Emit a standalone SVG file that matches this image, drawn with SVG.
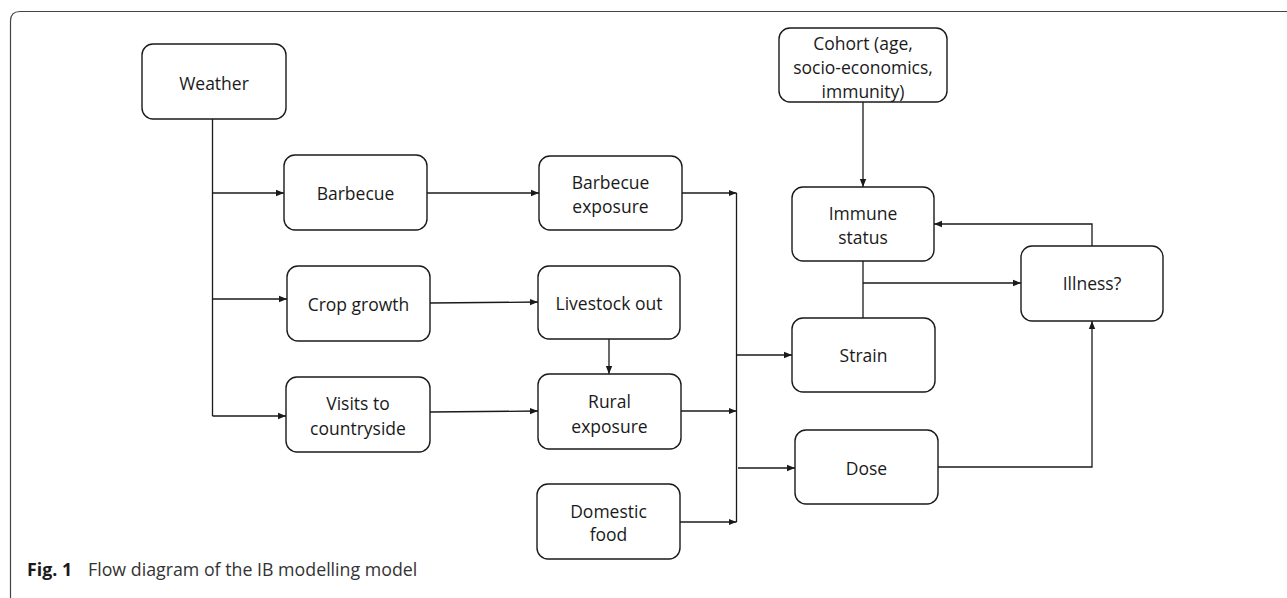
<svg xmlns="http://www.w3.org/2000/svg" width="1287" height="598" viewBox="0 0 1287 598">
<style>
.box{fill:#fff;stroke:#1a1a1a;stroke-width:1.4}
.lbl{font-family:"Open Sans","Noto Sans",sans-serif;font-size:17.5px;fill:#1a1a1a;text-anchor:middle;dominant-baseline:central}
.con{fill:none;stroke:#1a1a1a;stroke-width:1.3}
.cap{font-family:"Open Sans","Noto Sans",sans-serif;font-size:17.8px;fill:#333}
</style>
<defs>
<marker id="ah" viewBox="0 0 10 10" refX="10" refY="5" markerWidth="8" markerHeight="8" markerUnits="userSpaceOnUse" orient="auto">
<path d="M0,1 L10,5 L0,9 Z" fill="#1a1a1a"/>
</marker>
</defs>
<rect width="1287" height="598" fill="#fff"/>
<path d="M10.5,600 L10.5,21 Q10.5,11.5 20,11.5 L1290,11.5" fill="none" stroke="#444" stroke-width="1.2"/>

<g id="connectors">
<path class="con" d="M212.5,119 L212.5,416"/>
<path class="con" d="M212.5,193 L284,193" marker-end="url(#ah)"/>
<path class="con" d="M212.5,299 L287,299" marker-end="url(#ah)"/>
<path class="con" d="M212.5,416 L286,416" marker-end="url(#ah)"/>
<path class="con" d="M427,193 L539,193" marker-end="url(#ah)"/>
<path class="con" d="M430,303 L538,302" marker-end="url(#ah)"/>
<path class="con" d="M430,412 L538,411" marker-end="url(#ah)"/>
<path class="con" d="M609,339 L609,374" marker-end="url(#ah)"/>
<path class="con" d="M736.5,193 L736.5,522"/>
<path class="con" d="M682,193 L736.5,193" marker-end="url(#ah)"/>
<path class="con" d="M681,411 L736.5,411" marker-end="url(#ah)"/>
<path class="con" d="M680,522 L736.5,522" marker-end="url(#ah)"/>
<path class="con" d="M736.5,355 L792,355" marker-end="url(#ah)"/>
<path class="con" d="M738,468 L795,468" marker-end="url(#ah)"/>
<path class="con" d="M863,102 L863,187" marker-end="url(#ah)"/>
<path class="con" d="M863,261 L863,318"/>
<path class="con" d="M863,283 L1021,283" marker-end="url(#ah)"/>
<path class="con" d="M1092,246 L1092,224 L934,224" marker-end="url(#ah)"/>
<path class="con" d="M938,467 L1092,467 L1092,321" marker-end="url(#ah)"/>
</g>

<g id="weather"><rect class="box" x="142" y="44" width="144" height="75" rx="11"/><text class="lbl" x="214" y="83">Weather</text></g>
<g id="barbecue"><rect class="box" x="284" y="155" width="143" height="75" rx="11"/><text class="lbl" x="355.5" y="193">Barbecue</text></g>
<g id="crop-growth"><rect class="box" x="287" y="266" width="143" height="75" rx="11"/><text class="lbl" x="358.5" y="304">Crop growth</text></g>
<g id="visits"><rect class="box" x="286" y="377" width="144" height="75" rx="11"/><text class="lbl" x="358" y="403">Visits to</text><text class="lbl" x="358" y="428">countryside</text></g>
<g id="barbecue-exposure"><rect class="box" x="539" y="156" width="143" height="74" rx="11"/><text class="lbl" x="610.5" y="182">Barbecue</text><text class="lbl" x="610.5" y="206">exposure</text></g>
<g id="livestock-out"><rect class="box" x="538" y="266" width="142" height="73" rx="11"/><text class="lbl" x="609" y="303">Livestock out</text></g>
<g id="rural-exposure"><rect class="box" x="538" y="374" width="143" height="75" rx="11"/><text class="lbl" x="609.5" y="401">Rural</text><text class="lbl" x="609.5" y="426">exposure</text></g>
<g id="domestic-food"><rect class="box" x="537" y="484" width="143" height="75" rx="11"/><text class="lbl" x="608.5" y="511">Domestic</text><text class="lbl" x="608.5" y="534">food</text></g>
<g id="cohort"><rect class="box" x="779" y="28" width="168" height="74" rx="11"/><text class="lbl" x="863" y="43">Cohort (age,</text><text class="lbl" x="863" y="67">socio-economics,</text><text class="lbl" x="863" y="91">immunity)</text></g>
<g id="immune-status"><rect class="box" x="792" y="187" width="142" height="74" rx="11"/><text class="lbl" x="863" y="213">Immune</text><text class="lbl" x="863" y="237">status</text></g>
<g id="strain"><rect class="box" x="792" y="318" width="143" height="74" rx="11"/><text class="lbl" x="863.5" y="355">Strain</text></g>
<g id="dose"><rect class="box" x="795" y="430" width="143" height="74" rx="11"/><text class="lbl" x="866.5" y="468">Dose</text></g>
<g id="illness"><rect class="box" x="1021" y="246" width="142" height="75" rx="11"/><text class="lbl" x="1092" y="283">Illness?</text></g>

<text class="cap" x="27" y="576"><tspan font-weight="bold" fill="#1a1a1a">Fig. 1</tspan><tspan x="88">Flow diagram of the IB modelling model</tspan></text>
</svg>
